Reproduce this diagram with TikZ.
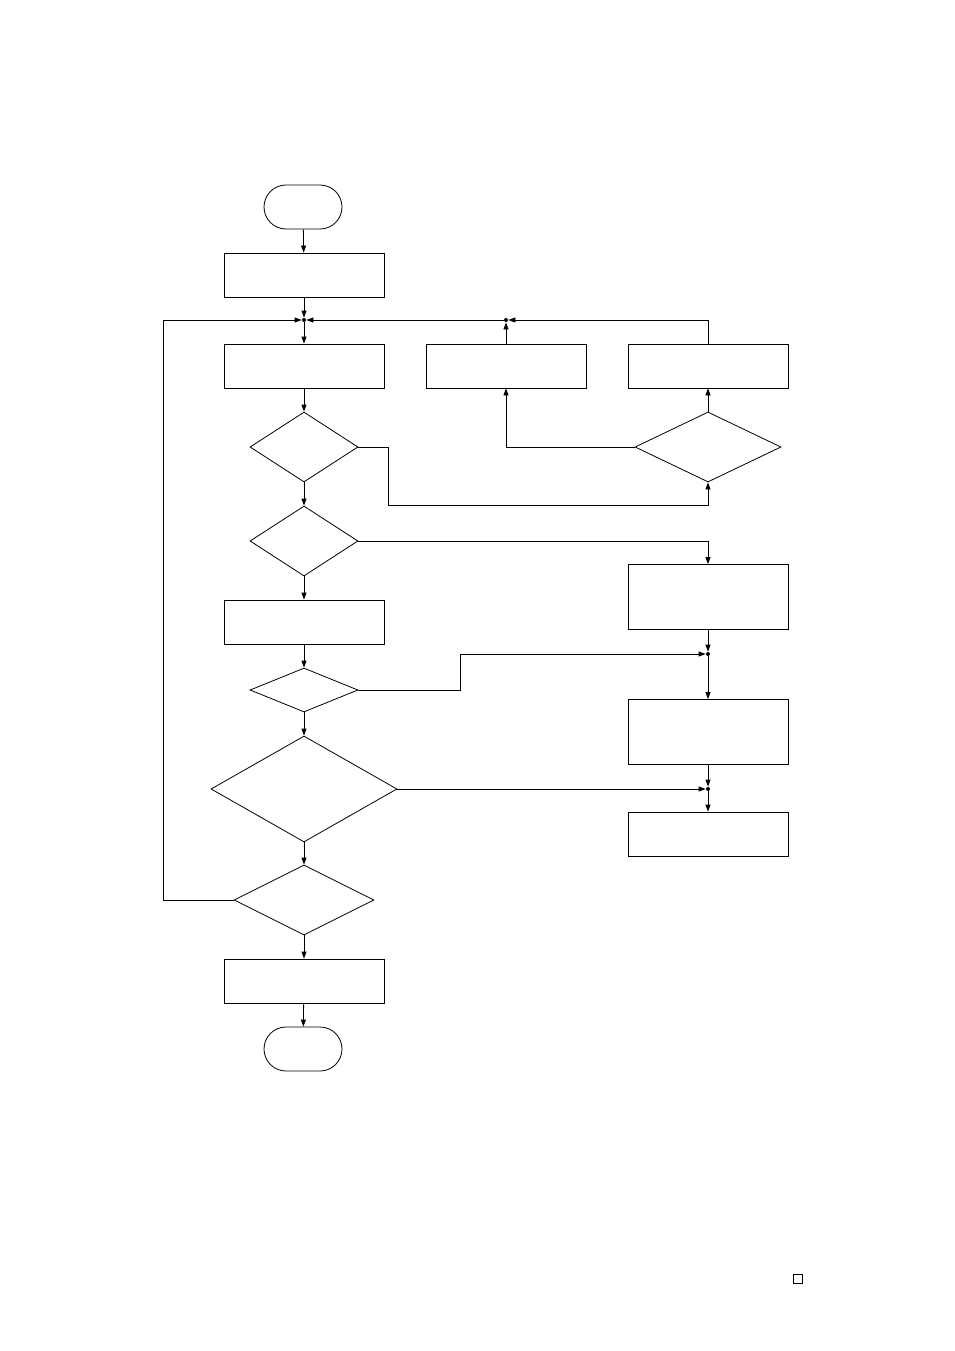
\documentclass[tikz,border=0pt]{standalone}
\usetikzlibrary{shapes.geometric, arrows.meta}
\begin{document}
\begin{tikzpicture}[x=1pt, y=-1pt,
    every path/.style={line width=0.8pt},
    procbox/.style={draw, minimum width=160pt, minimum height=44pt, inner sep=0pt},
    tallbox/.style={draw, minimum width=160pt, minimum height=65pt, inner sep=0pt},
    termbox/.style={draw, rounded corners=22pt, minimum width=78pt, minimum height=44pt, inner sep=0pt},
    decide/.style={draw, diamond, inner sep=0pt},
    flow/.style={-{Triangle[length=7pt, width=5pt]}},
    dot/.style={circle, fill, inner sep=0pt, minimum size=4pt}]
    \useasboundingbox (0,0) rectangle (954,1351);
    % Main column
    \node[termbox] (start) at (303,207) {};
    \node[procbox] (init) at (304,275) {};
    \node[dot] (j1) at (304,320) {};
    \node[procbox] (read) at (304,366) {};
    \node[decide, minimum width=108pt, minimum height=70pt] (chk1) at (304,447) {};
    \node[decide, minimum width=108pt, minimum height=70pt] (chk2) at (304,541) {};
    \node[procbox] (calc) at (304,622) {};
    \node[decide, minimum width=108pt, minimum height=44pt] (chk3) at (304,690) {};
    \node[decide, minimum width=186pt, minimum height=106pt] (chk4) at (304,789) {};
    \node[decide, minimum width=140pt, minimum height=70pt] (chk5) at (304,900) {};
    \node[procbox] (save) at (304,981) {};
    \node[termbox] (stop) at (303,1049) {};
    % Right side
    \node[procbox] (fixa) at (506,366) {};
    \node[procbox] (fixb) at (708,366) {};
    \node[dot] (j2) at (506,320) {};
    \node[decide, minimum width=146pt, minimum height=70pt] (chk6) at (708,447) {};
    \node[tallbox] (warn) at (708,597) {};
    \node[dot] (j3) at (708,654) {};
    \node[tallbox] (alarm) at (708,732) {};
    \node[dot] (j4) at (708,789) {};
    \node[procbox] (halt) at (708,834) {};
    % Corner mark
    \node[draw, minimum size=9pt, inner sep=0pt, line width=0.5pt] (mark) at (798,1279) {};

    % Connections
    \draw[flow] (start) -- (init);
    \draw[flow] (init) -- (j1);
    \draw[flow] (j1) -- (read);
    \draw[flow] (read) -- (chk1);
    \draw[flow] (chk1) -- (chk2);
    \draw[flow] (chk2) -- (calc);
    \draw[flow] (calc) -- (chk3);
    \draw[flow] (chk3) -- (chk4);
    \draw[flow] (chk4) -- (chk5);
    \draw[flow] (chk5) -- (save);
    \draw[flow] (save) -- (stop);
    \draw[flow] (chk5.west) -| (163,320) -- (j1);
    \draw[flow] (chk1.east) -- (388,447) |- (708,505) -- (chk6.south);
    \draw[flow] (chk6.west) -| (fixa.south);
    \draw[flow] (chk6) -- (fixb);
    \draw[flow] (fixa) -- (j2);
    \draw[flow] (fixb.north) |- (j2);
    \draw[flow] (j2) -- (j1);
    \draw[flow] (chk2.east) -| (warn.north);
    \draw[flow] (warn) -- (j3);
    \draw[flow] (chk3.east) -| (460,654) -- (j3);
    \draw[flow] (j3) -- (alarm);
    \draw[flow] (alarm) -- (j4);
    \draw[flow] (chk4.east) -- (j4);
    \draw[flow] (j4) -- (halt);
\end{tikzpicture}
\end{document}
